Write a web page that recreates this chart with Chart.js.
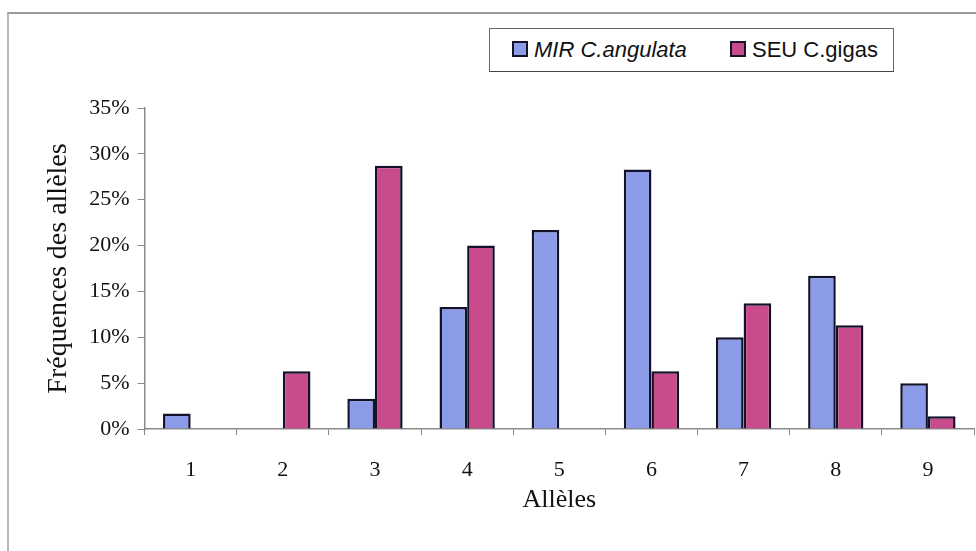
<!DOCTYPE html>
<html>
<head>
<meta charset="utf-8">
<script src="https://cdn.jsdelivr.net/npm/chart.js@4.4.1/dist/chart.umd.min.js"></script>
<style>
  html, body { margin:0; padding:0; background:#fff; }
  #wrap { position:relative; width:976px; height:551px; overflow:hidden; }
  #frame { position:absolute; left:7px; top:12px; width:980px; height:560px;
           border-left:2px solid #b8b8b8; border-top:2px solid #9a9a9a; }
  #chart { position:absolute; left:0; top:0; }
  #legend { position:absolute; left:489px; top:28px; width:403px; height:42px;
            border:1.5px solid #666; border-bottom-color:#444; background:#fff;
            font-family:"Liberation Sans", Arial, sans-serif; font-size:22px; color:#111; }
  .item { position:absolute; top:0; height:42px; line-height:42px; white-space:nowrap; }
  .sw { display:inline-block; width:12px; height:12px; border:2px solid #15152a;
        vertical-align:middle; margin-right:6px; position:relative; top:-2px; }
</style>
</head>
<body>
<div id="wrap">
  <div id="frame"></div>
  <canvas id="chart" width="976" height="551"></canvas>
  <div id="legend"></div>
</div>
<script>
const categories = ['1','2','3','4','5','6','7','8','9'];
const mirAngulata = [1.7, 0, 3.3, 13.3, 21.7, 28.3, 10.0, 16.7, 5.0];
const seuGigas    = [0, 6.3, 28.7, 20.0, 0, 6.3, 13.7, 11.3, 1.4];
const seriesNames = ['MIR C.angulata', 'SEU C.gigas'];
const seriesStyles = ['italic', 'normal'];
const seriesColors = ['#8c9be8', '#c94b8b'];
const yTicks = [0, 5, 10, 15, 20, 25, 30, 35];
const yTitle = 'Fréquences des allèles';
const xTitle = 'Allèles';

const serif = '"Liberation Serif", "Times New Roman", serif';
const axisGray = '#8a8a8a';

const chart = new Chart(document.getElementById('chart'), {
  type: 'bar',
  data: {
    labels: categories,
    datasets: [
      { label: seriesNames[0], data: mirAngulata, backgroundColor: seriesColors[0],
        borderColor: '#12122a', borderWidth: 2.5, categoryPercentage: 0.6, barPercentage: 1.0 },
      { label: seriesNames[1], data: seuGigas, backgroundColor: seriesColors[1],
        borderColor: '#12122a', borderWidth: 2.5, categoryPercentage: 0.6, barPercentage: 1.0 }
    ]
  },
  options: {
    responsive: false,
    animation: false,
    layout: { padding: { left: 30, right: 2, top: 108, bottom: 35 } },
    plugins: { legend: { display: false }, tooltip: { enabled: false } },
    scales: {
      x: {
        grid: { display: true, drawOnChartArea: false, drawTicks: true, tickLength: 6, color: axisGray, offset: true },
        border: { display: true, color: axisGray, width: 1.5 },
        ticks: { color: '#111', font: { family: serif, size: 22 }, padding: 22 },
        title: { display: true, text: xTitle, color: '#111', font: { family: serif, size: 26 }, padding: { top: 0, bottom: 0 } },
        afterFit: (s) => { s.height = 87; }
      },
      y: {
        min: 0, max: 35,
        afterBuildTicks: (s) => { s.ticks = yTicks.map(v => ({ value: v })); },
        grid: { display: true, drawOnChartArea: false, drawTicks: true, tickLength: 7, color: axisGray },
        border: { display: true, color: axisGray, width: 1.5 },
        ticks: { color: '#111', font: { family: serif, size: 22 }, padding: 8, callback: (v) => v + '%' },
        title: { display: true, text: yTitle, color: '#111', font: { family: serif, size: 28 }, padding: { top: 12, bottom: 0 } },
        afterFit: (s) => { s.width = 114.6; }
      }
    }
  }
});

// HTML legend built from the datasets
const legend = document.getElementById('legend');
const itemLeft = [22, 240];
chart.data.datasets.forEach((ds, i) => {
  const it = document.createElement('div');
  it.className = 'item';
  it.style.left = itemLeft[i] + 'px';
  it.style.fontStyle = seriesStyles[i];
  const sw = document.createElement('span');
  sw.className = 'sw';
  sw.style.background = ds.backgroundColor;
  it.appendChild(sw);
  it.appendChild(document.createTextNode(ds.label));
  legend.appendChild(it);
});
</script>
</body>
</html>
